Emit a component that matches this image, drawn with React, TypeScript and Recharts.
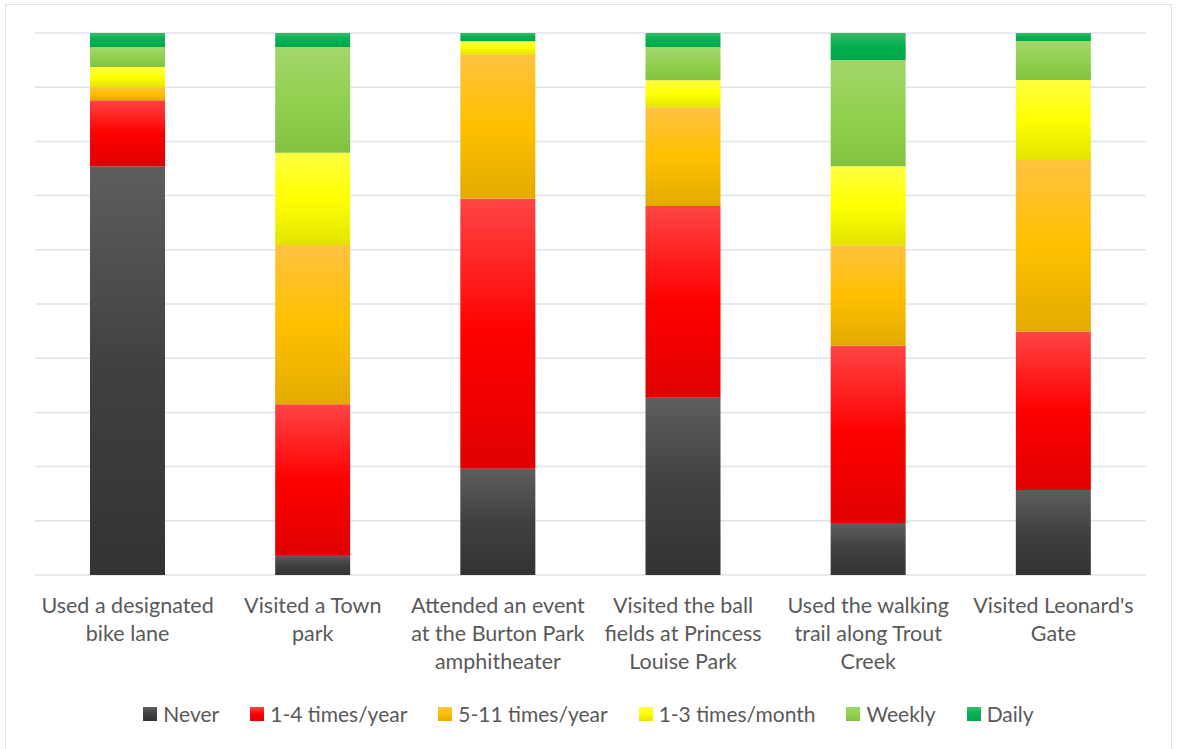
import React from 'react'
import { Bar, BarChart, CartesianGrid, Legend, XAxis, YAxis } from 'recharts'

// category labels, already broken the way the original wraps them
const categoryLines = [
  ['Used a designated', 'bike lane'],
  ['Visited a Town', 'park'],
  ['Attended an event', 'at the Burton Park', 'amphitheater'],
  ['Visited the ball', 'fields at Princess', 'Louise Park'],
  ['Used the walking', 'trail along Trout', 'Creek'],
  ["Visited Leonard's", 'Gate'],
]
const categories = categoryLines.map((l) => l.join(' '))

// share of respondents (%)
const never = [75.5, 3.7, 19.6, 32.7, 9.6, 15.7]
const perYear1to4 = [12.2, 27.8, 49.8, 35.4, 32.8, 29.3]
const perYear5to11 = [2.4, 29.4, 26.7, 18.2, 18.5, 31.7]
const perMonth1to3 = [3.7, 17.0, 2.4, 5.0, 14.6, 14.8]
const weekly = [3.7, 19.5, 0, 6.1, 19.6, 7.2]
const daily = [2.6, 2.6, 1.5, 2.6, 5.0, 1.5]

const gridTicks = [0, 0.1, 0.2, 0.3, 0.4, 0.5, 0.6, 0.7, 0.8, 0.9, 1]

const series = [
  { key: 'never', name: 'Never', values: never, stops: ['#5e5e5e', '#404040', '#333333'] },
  { key: 'y14', name: '1-4 times/year', values: perYear1to4, stops: ['#ff4545', '#ff0000', '#e00000'] },
  { key: 'y511', name: '5-11 times/year', values: perYear5to11, stops: ['#ffc23f', '#ffc000', '#e3ab00'] },
  { key: 'm13', name: '1-3 times/month', values: perMonth1to3, stops: ['#ffff40', '#ffff00', '#e3e300'] },
  { key: 'weekly', name: 'Weekly', values: weekly, stops: ['#a3d66b', '#92d050', '#83c240'] },
  { key: 'daily', name: 'Daily', values: daily, stops: ['#3bba6a', '#00b050', '#00a84a'] },
]

const data = categories.map((name, i) => {
  const row: Record<string, string | number> = { name }
  series.forEach((s) => {
    row[s.key] = s.values[i]
  })
  return row
})

const textColor = '#595959'
const fontFamily = 'Lato, "Liberation Sans", sans-serif'

function CategoryTick(props: any) {
  const { x, y, payload } = props
  const idx = categories.indexOf(payload.value)
  const lines = idx >= 0 ? categoryLines[idx] : [payload.value]
  return (
    <text x={x} y={y + 38} textAnchor="middle" fill={textColor} fontSize={21.5} fontFamily={fontFamily}>
      {lines.map((line, i) => (
        <tspan key={i} x={x} dy={i === 0 ? 0 : 28}>
          {line}
        </tspan>
      ))}
    </text>
  )
}

function LegendContent() {
  return (
    <div style={{ display: 'flex', justifyContent: 'center', alignItems: 'center', fontFamily, fontSize: 21, color: textColor }}>
      {series.map((s, i) => (
        <div key={s.key} style={{ display: 'flex', alignItems: 'center', marginLeft: i === 0 ? 0 : 31 }}>
          <svg width={14} height={14} style={{ marginRight: 6 }}>
            <rect x={0} y={0} width={14} height={14} fill={`url(#grad-${s.key})`} />
          </svg>
          <span>{s.name}</span>
        </div>
      ))}
    </div>
  )
}

export default function App() {
  return (
    <div style={{ position: 'absolute', left: 0, top: 0, width: 1177, height: 749, background: '#fff', overflow: 'hidden' }}>
      <div
        style={{
          position: 'absolute',
          left: 5,
          top: 4,
          width: 1167,
          height: 800,
          border: '1.5px solid #dfe3e9',
          boxSizing: 'border-box',
        }}
      />
      <div style={{ position: 'absolute', left: 0, top: 0 }}>
        <BarChart
          width={1177}
          height={749}
          data={data}
          stackOffset="expand"
          margin={{ top: 33, right: 31, left: 35, bottom: 54 }}
        >
          <defs>
            {series.map((s) => (
              <linearGradient key={s.key} id={`grad-${s.key}`} x1="0" y1="0" x2="0" y2="1">
                <stop offset="0%" stopColor={s.stops[0]} />
                <stop offset="50%" stopColor={s.stops[1]} />
                <stop offset="100%" stopColor={s.stops[2]} />
              </linearGradient>
            ))}
          </defs>
          <CartesianGrid vertical={false} stroke="#dfe3e9" strokeWidth={1.5} />
          <XAxis
            dataKey="name"
            axisLine={false}
            tickLine={false}
            tickSize={0}
            tickMargin={0}
            height={120}
            interval={0}
            tick={<CategoryTick />}
          />
          <YAxis hide domain={[0, 1]} ticks={gridTicks} />
          <Legend
            layout="horizontal"
            verticalAlign="middle"
            align="center"
            content={<LegendContent />}
            wrapperStyle={{ top: 701, left: 0, width: 1177 }}
          />
          {series.map((s) => (
            <Bar
              key={s.key}
              dataKey={s.key}
              name={s.name}
              stackId="a"
              barSize={75}
              fill={`url(#grad-${s.key})`}
              isAnimationActive={false}
            />
          ))}
        </BarChart>
      </div>
    </div>
  )
}
